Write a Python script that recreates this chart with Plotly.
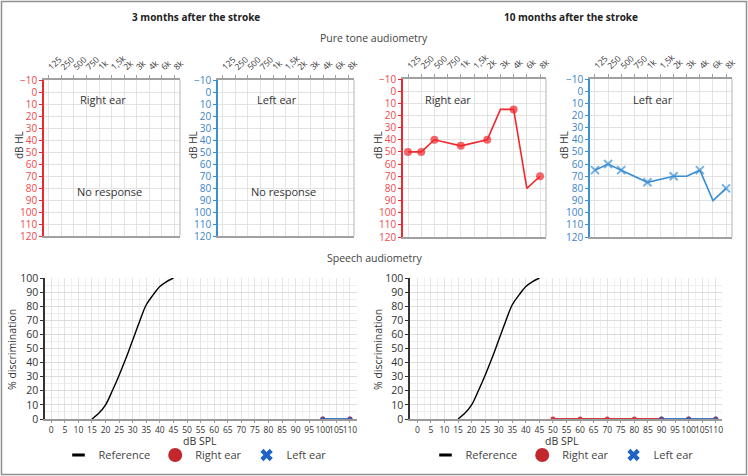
import plotly.graph_objects as go

# --- data -------------------------------------------------------------
freq_labels = ["125", "250", "500", "750", "1k", "1,5k", "2k", "3k", "4k", "6k", "8k"]
octave = [True, True, True, False, True, False, True, False, True, False, True]

right_ear_3m = [None] * 11   # no response
left_ear_3m = [None] * 11    # no response
right_ear_10m = [50, 50, 40, None, 45, None, 40, 15, 15, 80, 70]
left_ear_10m = [65, 60, 65, None, 75, None, 70, 70, 65, 90, 80]

ref_db = [15, 17.5, 20, 22.5, 25, 27.5, 30, 32.5, 35, 37.5, 40, 42.5, 45]
ref_pct = [0, 4, 10, 20, 31, 43, 56, 69, 81, 88, 94, 97.5, 100]

speech_3m_right_db = [100, 110]
speech_3m_right_pct = [0, 0]
speech_3m_left_db = [100, 110]
speech_3m_left_pct = [0, 0]

speech_10m_right_db = [50, 60, 70, 80, 90, 100, 110]
speech_10m_right_pct = [0, 0, 0, 0, 0, 0, 0]
speech_10m_left_db = [90, 100, 110]
speech_10m_left_pct = [0, 0, 0]

W, H = 748, 476
FONT = "Open Sans"
RED = "#f0282d"
RED_TXT = "#f0484c"
BLUE = "#3a8fd3"
BLUE_TXT = "#3b83c8"
GRID = "#e3e3e3"
TXT = "#333333"


def px(x):
    return x / W


def py(y):
    return 1 - y / H


fig = go.Figure()
freq_idx = list(range(len(freq_labels)))

# pure tone audiometry
for ax, vals, color, symbol in [
    ("x", right_ear_3m, RED, "circle"),
    ("2", left_ear_3m, BLUE, "x-thin-open"),
    ("3", right_ear_10m, RED, "circle"),
    ("4", left_ear_10m, BLUE, "x-thin-open"),
]:
    fig.add_trace(go.Scatter(
        x=freq_idx, y=vals, mode="lines+markers", connectgaps=True,
        xaxis="x" if ax == "x" else "x" + ax, yaxis="y" if ax == "x" else "y" + ax,
        showlegend=False,
        line=dict(color=color, width=1.6),
        marker=dict(color=color, symbol=symbol, size=[8 if o else 0 for o in octave],
                    line=dict(color=color, width=2 if symbol != "circle" else 0)),
    ))

# speech audiometry
SP_RED = "#d23a3f"
SP_BLUE = "#3a7bd0"
for ax, rdb, rpct, ldb, lpct in [
    ("5", speech_3m_right_db, speech_3m_right_pct, speech_3m_left_db, speech_3m_left_pct),
    ("6", speech_10m_right_db, speech_10m_right_pct, speech_10m_left_db, speech_10m_left_pct),
]:
    fig.add_trace(go.Scatter(
        x=ref_db, y=ref_pct, mode="lines", line=dict(color="black", width=1.4, shape="spline"),
        xaxis="x" + ax, yaxis="y" + ax, showlegend=False,
    ))
    fig.add_trace(go.Scatter(
        x=rdb, y=rpct, mode="lines+markers", line=dict(color=SP_RED, width=2),
        marker=dict(color=SP_RED, size=5), xaxis="x" + ax, yaxis="y" + ax, showlegend=False,
    ))
    fig.add_trace(go.Scatter(
        x=ldb, y=lpct, mode="lines+markers", line=dict(color=SP_BLUE, width=2),
        marker=dict(color="#5a4f9a", size=5), xaxis="x" + ax, yaxis="y" + ax, showlegend=False,
    ))
    # legend-only entries
    leg = "legend" if ax == "5" else "legend2"
    fig.add_trace(go.Scatter(
        x=[None], y=[None], mode="markers", name="Reference", legend=leg,
        xaxis="x" + ax, yaxis="y" + ax,
        marker=dict(symbol="line-ew", size=9, line=dict(color="black", width=3)),
    ))
    fig.add_trace(go.Scatter(
        x=[None], y=[None], mode="markers", name="Right ear", legend=leg,
        xaxis="x" + ax, yaxis="y" + ax,
        marker=dict(symbol="circle", size=14, color="#c1272d"),
    ))
    fig.add_trace(go.Scatter(
        x=[None], y=[None], mode="markers", name="Left ear", legend=leg,
        xaxis="x" + ax, yaxis="y" + ax,
        marker=dict(symbol="x", size=11, color="#1f63c6", line=dict(width=0)),
    ))

# --- axes -------------------------------------------------------------
top_panels = [
    ("", 44, 180, 80, 236, RED, RED_TXT),
    ("2", 218, 354, 80, 236, BLUE, BLUE_TXT),
    ("3", 403, 546, 79, 237, RED, RED_TXT),
    ("4", 590, 732, 79, 237, BLUE, BLUE_TXT),
]
layout_axes = {}
shapes = []
for n, x0, x1, y0, y1, lc, tc in top_panels:
    layout_axes["xaxis" + n] = dict(
        domain=[px(x0), px(x1)], anchor="y" + n, side="top", automargin=False,
        range=[-0.38, 10.45], tickmode="array", tickvals=freq_idx, ticktext=freq_labels,
        tickangle=-45, tickfont=dict(size=8.5, color=TXT, family=FONT),
        showline=True, linecolor="#a0a0a0", linewidth=1.5, mirror=True,
        ticks="outside", ticklen=3, tickcolor="#a0a0a0",
        showgrid=True, gridcolor=GRID, zeroline=False,
    )
    layout_axes["yaxis" + n] = dict(
        domain=[py(y1), py(y0)], anchor="x" + n, automargin=False,
        range=[120, -10], tickmode="linear", tick0=-10, dtick=10,
        tickfont=dict(size=10, color=tc, family=FONT),
        showline=True, linecolor=lc, linewidth=1.5,
        ticks="outside", ticklen=3, tickcolor=lc,
        showgrid=True, gridcolor=GRID, zeroline=False,
    )
    shapes.append(dict(type="line", xref=("x" + n if n else "x") + " domain",
                       yref=("y" + n if n else "y") + " domain",
                       x0=1, x1=1, y0=0, y1=1, line=dict(color="#c0c0c0", width=1.2)))

bottom_panels = [("5", 45, 357, [-2.3, 112.6]), ("6", 410, 722, [-2.7, 112.3])]
for n, x0, x1, rng in bottom_panels:
    layout_axes["xaxis" + n] = dict(
        domain=[px(x0), px(x1)], anchor="y" + n, range=rng, automargin=False,
        tickmode="linear", tick0=0, dtick=5, tickangle=0,
        tickfont=dict(size=8.5, color=TXT, family=FONT),
        showline=True, linecolor="#9a9a9a", linewidth=1.5,
        ticks="outside", ticklen=2, tickcolor="#9a9a9a",
        showgrid=True, gridcolor=GRID, zeroline=False,
        minor=dict(dtick=2.5, showgrid=True, gridcolor="#f0f0f0"),
    )
    layout_axes["yaxis" + n] = dict(
        domain=[py(419), py(278)], anchor="x" + n, range=[0, 100], automargin=False,
        tickmode="linear", tick0=0, dtick=10,
        tickfont=dict(size=10.5, color=TXT, family=FONT),
        showline=True, linecolor="#333333", linewidth=1.5,
        ticks="outside", ticklen=3, tickcolor="#333333",
        showgrid=True, gridcolor="#dcdcdc", zeroline=False,
        minor=dict(dtick=5, showgrid=True, gridcolor="#eeeeee"),
    )

# border around the whole figure
shapes.append(dict(type="rect", xref="paper", yref="paper", x0=0.002, x1=0.998,
                   y0=0.003, y1=0.997, line=dict(color="#909090", width=1.5)))


def note(text, x, y, size=11, bold=False, angle=0, color=TXT):
    return dict(text=f"<b>{text}</b>" if bold else text, x=px(x), y=py(y),
                xref="paper", yref="paper", showarrow=False, textangle=angle,
                font=dict(size=size, color=color, family=FONT),
                xanchor="center", yanchor="middle")


annotations = [
    note("3 months after the stroke", 196, 17, size=10, bold=True, color="#222222"),
    note("10 months after the stroke", 571, 17, size=10, bold=True, color="#222222"),
    note("Pure tone audiometry", 374, 38, size=10.5, color="#444444"),
    note("Speech audiometry", 374, 258, size=10.5, color="#444444"),
    note("Right ear", 103, 99),
    note("No response", 109, 191),
    note("Left ear", 277, 99),
    note("No response", 283, 191),
    note("Right ear", 448, 99),
    note("Left ear", 653, 99),
    note("dB HL", 19, 145, size=10, angle=-90),
    note("dB HL", 193, 145, size=10, angle=-90),
    note("dB HL", 378, 145, size=10, angle=-90),
    note("dB HL", 564, 145, size=10, angle=-90),
    note("% discrimination", 12, 350, size=10.5, angle=-90),
    note("% discrimination", 378, 350, size=10.5, angle=-90),
    note("dB SPL", 200, 441, size=10.5),
    note("dB SPL", 562, 441, size=10.5),
]

legend_style = dict(orientation="h", xanchor="center", yanchor="middle", y=py(455),
                    font=dict(size=11, color="#444444", family=FONT),
                    bgcolor="rgba(0,0,0,0)", itemclick=False, tracegroupgap=0)

fig.update_layout(
    width=W, height=H, margin=dict(l=0, r=0, t=0, b=0),
    paper_bgcolor="white", plot_bgcolor="white",
    font=dict(family=FONT, color=TXT),
    showlegend=True,
    legend=dict(x=px(195), **legend_style),
    legend2=dict(x=px(562), **legend_style),
    shapes=shapes, annotations=annotations,
    **layout_axes,
)

# drop the browser's default page margin so the figure sits at the window origin
fig.write_html("out.html", config={"displayModeBar": False},
               post_script="document.body.style.margin='0';")
